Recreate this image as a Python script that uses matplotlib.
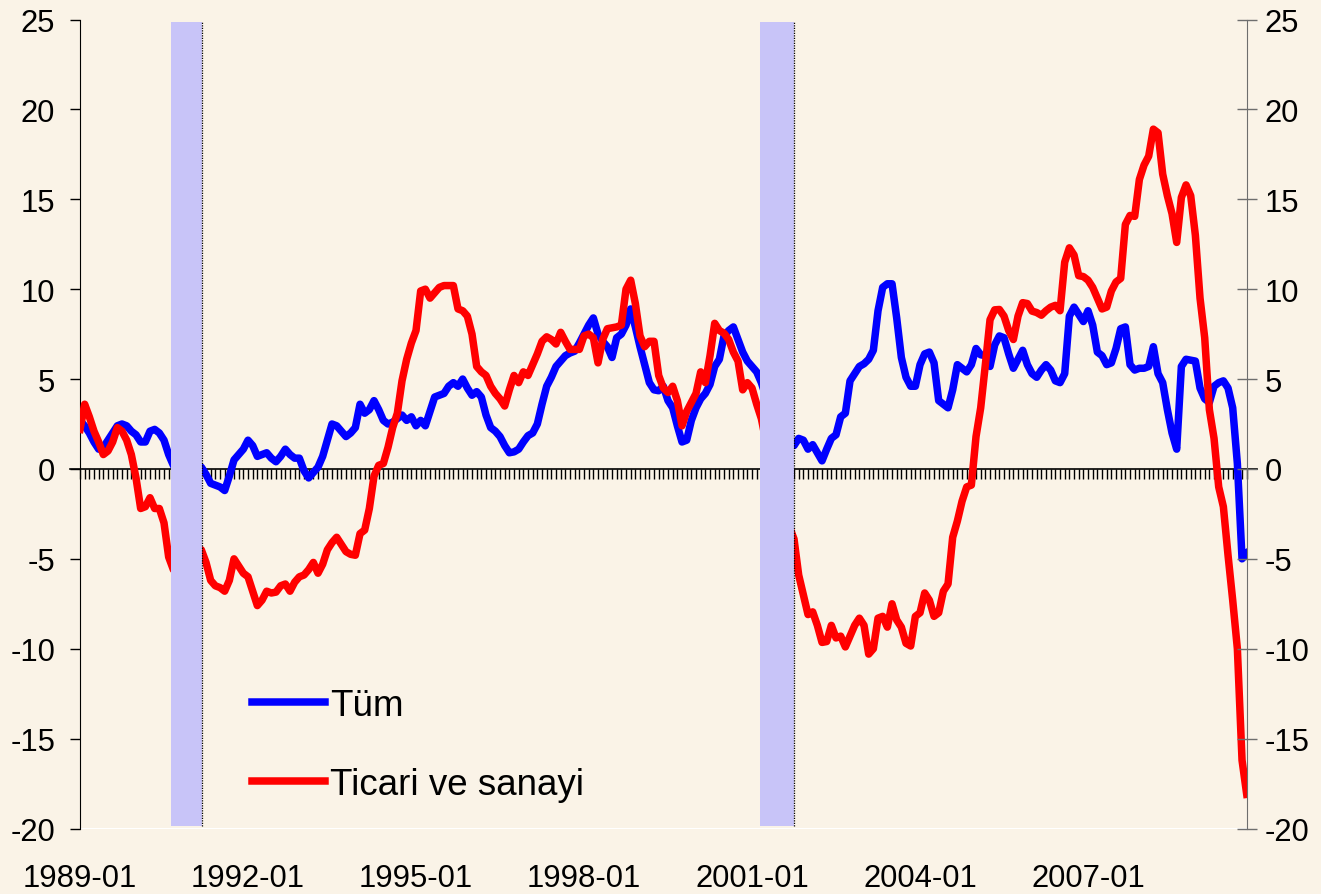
import numpy as np
import matplotlib
matplotlib.use("Agg")
import matplotlib.pyplot as plt

plt.rcParams["font.family"] = ["Liberation Sans", "DejaVu Sans"]
plt.rcParams["axes.unicode_minus"] = False

# ========================================
# data: monthly values, 1989-01 onward
# ========================================
tum = [
    2.7, 2.4, 2.0, 1.5, 1.1, 1.2, 1.6, 2.0, 2.4, 2.5,
    2.4, 2.1, 1.9, 1.5, 1.5, 2.1, 2.2, 2.0, 1.6, 0.8,
    0.2, -0.2, -0.3, -0.2, 0.0, 0.1, 0.1, -0.3, -0.8, -0.9,
    -1.0, -1.2, -0.4, 0.5, 0.8, 1.1, 1.6, 1.3, 0.7, 0.8,
    0.9, 0.6, 0.4, 0.7, 1.1, 0.8, 0.6, 0.6, -0.1, -0.5,
    -0.2, 0.1, 0.7, 1.6, 2.5, 2.4, 2.1, 1.8, 2.0, 2.3,
    3.6, 3.1, 3.3, 3.8, 3.3, 2.7, 2.5, 2.6, 2.8, 3.0,
    2.7, 2.9, 2.4, 2.7, 2.4, 3.2, 4.0, 4.1, 4.2, 4.6,
    4.8, 4.6, 5.0, 4.5, 4.1, 4.3, 4.0, 3.0, 2.3, 2.1,
    1.8, 1.3, 0.9, 0.95, 1.1, 1.5, 1.85, 2.0, 2.5, 3.6,
    4.6, 5.1, 5.7, 6.0, 6.3, 6.45, 6.55, 7.0, 7.5, 8.0,
    8.4, 7.5, 7.1, 6.8, 6.2, 7.3, 7.5, 8.0, 8.9, 7.9,
    6.8, 5.8, 4.8, 4.4, 4.35, 4.6, 3.8, 3.4, 2.4, 1.5,
    1.6, 2.7, 3.4, 3.9, 4.2, 4.7, 5.7, 6.1, 7.4, 7.7,
    7.9, 7.2, 6.5, 6.0, 5.7, 5.4, 4.8, 4.0, 3.3, 2.6,
    2.0, 1.6, 1.4, 1.3, 1.7, 1.6, 1.1, 1.35, 0.9, 0.45,
    1.1, 1.7, 1.9, 2.9, 3.1, 4.9, 5.3, 5.7, 5.85, 6.1,
    6.6, 8.8, 10.1, 10.3, 10.3, 8.4, 6.2, 5.1, 4.6, 4.6,
    5.8, 6.4, 6.5, 5.9, 3.8, 3.6, 3.4, 4.4, 5.8, 5.6,
    5.4, 5.8, 6.7, 6.35, 6.3, 5.7, 6.9, 7.4, 7.3, 6.4,
    5.6, 6.1, 6.6, 5.8, 5.3, 5.1, 5.5, 5.8, 5.5, 4.9,
    4.8, 5.3, 8.5, 9.0, 8.6, 8.2, 8.8, 8.0, 6.5, 6.3,
    5.8, 5.9, 6.7, 7.8, 7.9, 5.8, 5.5, 5.6, 5.6, 5.7,
    6.8, 5.3, 4.8, 3.3, 2.0, 1.1, 5.7, 6.1, 6.05, 6.0,
    4.5, 3.9, 3.7, 4.6, 4.8, 4.9, 4.5, 3.4, 0.3, -5.0,
    -4.7,
]

ticari = [
    2.2, 3.6, 2.9, 2.1, 1.5, 0.8, 1.0, 1.5, 2.3, 2.1,
    1.6, 0.8, -0.5, -2.2, -2.1, -1.6, -2.2, -2.2, -3.0, -4.9,
    -5.6, -5.8, -5.5, -5.2, -5.0, -4.8, -4.5, -5.2, -6.2, -6.5,
    -6.6, -6.8, -6.2, -5.0, -5.4, -5.8, -6.0, -6.8, -7.6, -7.3,
    -6.8, -6.9, -6.85, -6.5, -6.4, -6.8, -6.3, -6.0, -5.9, -5.6,
    -5.2, -5.8, -5.3, -4.5, -4.1, -3.8, -4.2, -4.6, -4.75, -4.8,
    -3.6, -3.4, -2.2, -0.4, 0.2, 0.3, 1.2, 2.3, 3.1, 4.9,
    6.1, 7.0, 7.7, 9.9, 10.0, 9.5, 9.8, 10.1, 10.2, 10.2,
    10.2, 8.9, 8.8, 8.5, 7.5, 5.7, 5.4, 5.2, 4.6, 4.2,
    3.9, 3.5, 4.4, 5.2, 4.8, 5.4, 5.2, 5.8, 6.4, 7.1,
    7.35, 7.2, 6.95, 7.6, 7.1, 6.65, 6.65, 6.65, 7.4, 7.5,
    7.3, 5.9, 7.2, 7.8, 7.85, 7.9, 8.0, 10.0, 10.5, 9.2,
    7.4, 6.8, 7.1, 7.1, 5.2, 4.5, 4.25, 4.6, 3.8, 2.4,
    3.2, 3.7, 4.2, 5.4, 4.8, 6.3, 8.1, 7.7, 7.55, 7.2,
    6.5, 6.0, 4.4, 4.8, 4.5, 3.6, 2.8, 1.5, 0.3, -0.8,
    -1.8, -2.6, -3.2, -3.9, -5.9, -7.0, -8.1, -7.95, -8.7, -9.65,
    -9.6, -8.7, -9.4, -9.3, -9.9, -9.3, -8.7, -8.3, -8.7, -10.3,
    -10.0, -8.3, -8.2, -8.8, -7.5, -8.4, -8.8, -9.7, -9.85, -8.2,
    -8.0, -6.9, -7.3, -8.2, -8.0, -6.8, -6.4, -3.8, -2.9, -1.8,
    -1.0, -0.9, 1.8, 3.4, 5.8, 8.3, 8.85, 8.87, 8.5, 7.7,
    7.2, 8.5, 9.25, 9.2, 8.78, 8.7, 8.55, 8.8, 9.0, 9.1,
    8.8, 11.5, 12.3, 11.9, 10.75, 10.7, 10.5, 10.1, 9.5, 8.9,
    9.0, 9.9, 10.4, 10.6, 13.6, 14.1, 14.05, 16.1, 16.9, 17.4,
    18.9, 18.7, 16.4, 15.2, 14.2, 12.6, 15.1, 15.8, 15.2, 13.0,
    9.5, 7.3, 3.3, 1.7, -1.0, -2.1, -4.8, -7.3, -10.0, -16.2,
    -18.1,
]

# recession bands in month index units (start, end)
recessions = [(19.5, 26.2), (145.7, 152.9)]

xtick_pos = [0, 36, 72, 108, 144, 180, 216]
xtick_labels = ["1989-01", "1992-01", "1995-01", "1998-01", "2001-01", "2004-01", "2007-01"]
yticks = np.arange(-20, 26, 5)

bg = "#FAF3E7"
shade = "#C8C4F8"
fs = 22.3

# ========================================
# plot
# ========================================
W, H = 1321, 895
fig = plt.figure(figsize=(W / 100, H / 100), dpi=100, facecolor=bg)
ax = fig.add_axes([80 / W, 1 - 829.5 / H, 1166.7 / W, 809 / H])
ax.set_facecolor(bg)

x = np.arange(len(tum))
ax.plot(x, tum, color="#0000FF", lw=5.4, zorder=3, label="Tüm")
ax.plot(x, ticari, color="#FF0000", lw=5.4, zorder=3.1, label="Ticari ve sanayi")

for s, e in recessions:
    ax.axvspan(s, e, ymin=0.003, ymax=0.997, color=shade, lw=0, zorder=4)
    ax.plot([e, e], [-19.85, 24.85], ls=(0, (1, 1)), color="black", lw=0.9, zorder=5)

ax.set_xlim(0, 250)
ax.set_ylim(-20, 25)

# zero line with monthly ticks
ax.axhline(0, xmin=-10 / 1166.7, xmax=1 + 10 / 1166.7, color="black", lw=1.2,
           clip_on=False, zorder=2.6)
ax.spines["bottom"].set_position(("data", 0))
ax.spines["bottom"].set_color("none")
ax.spines["top"].set_visible(False)
ax.spines["right"].set_visible(False)
ax.spines["left"].set_color("black")
ax.set_xticks(x)
ax.tick_params(axis="x", direction="out", length=7, width=1, color="black",
               labelbottom=False)

sec = ax.secondary_xaxis("bottom")
sec.set_xticks(xtick_pos, xtick_labels)
sec.tick_params(length=0, pad=25, labelsize=fs)
sec.spines["bottom"].set_visible(False)

ax.set_yticks(yticks)
ax.tick_params(axis="y", direction="out", length=7, width=1, labelsize=fs, pad=11)

ax2 = ax.twinx()
ax2.set_ylim(-20, 25)
ax2.set_yticks(yticks)
ax2.tick_params(axis="y", direction="inout", length=14, width=1, color="#6E6E6E",
                labelsize=fs, pad=6)
for side in ["top", "bottom", "left"]:
    ax2.spines[side].set_visible(False)
ax2.spines["right"].set_color("#6E6E6E")

ax.legend(loc="lower left", bbox_to_anchor=(0.147, 0.033), frameon=False, fontsize=26.5,
          handlelength=2.0, handletextpad=0.13, labelspacing=1.2, borderpad=0,
          borderaxespad=0)

fig.savefig("out.png", dpi=100, facecolor=bg)
